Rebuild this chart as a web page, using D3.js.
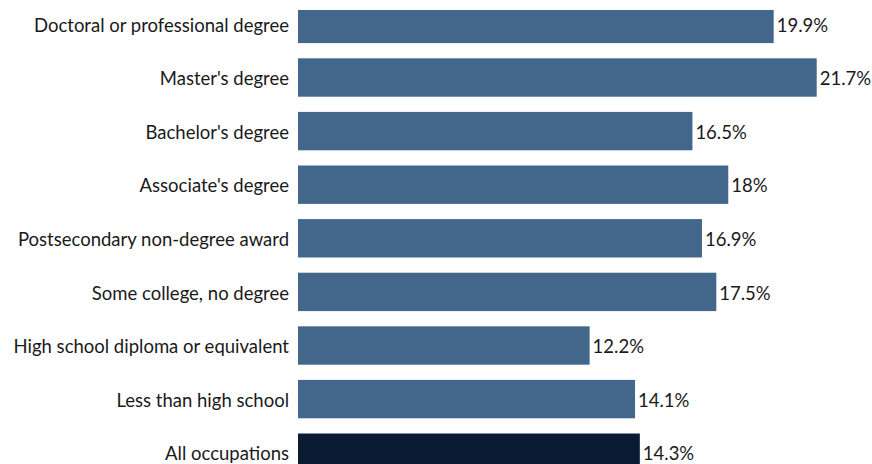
<!DOCTYPE html>
<html>
<head>
<meta charset="utf-8">
<script src="https://cdn.jsdelivr.net/npm/d3@7"></script>
<style>
  html, body { margin: 0; padding: 0; background: #ffffff; }
  svg { display: block; }
  text { font-family: Lato, "Noto Sans", sans-serif; fill: #1a1a1a; }
</style>
</head>
<body>
<svg id="chart" width="872" height="464"></svg>
<script>
// Education levels, top to bottom
const categories = [
  "Doctoral or professional degree",
  "Master's degree",
  "Bachelor's degree",
  "Associate's degree",
  "Postsecondary non-degree award",
  "Some college, no degree",
  "High school diploma or equivalent",
  "Less than high school",
  "All occupations"
];
// Percent values for each level
const values = [19.9, 21.7, 16.5, 18, 16.9, 17.5, 12.2, 14.1, 14.3];
const valueLabels = ["19.9%", "21.7%", "16.5%", "18%", "16.9%", "17.5%", "12.2%", "14.1%", "14.3%"];
const totalCategory = "All occupations";

const W = 872, H = 464;
const FONT_SIZE = 18.5;
const svg = d3.select("#chart");

const x = d3.scaleLinear().domain([0, 21.7]).range([298, 816.7]);
const y = d3.scaleBand()
  .domain(categories)
  .range([-2.9, 479.5])
  .paddingInner(0.284)
  .paddingOuter(0.142);

const data = categories.map((c, i) => ({ cat: c, value: values[i], label: valueLabels[i] }));

// Plot area starts a little below the top edge
svg.append("defs").append("clipPath").attr("id", "plot-clip")
  .append("rect").attr("x", 0).attr("y", 10).attr("width", W).attr("height", H - 10);

svg.append("g").attr("clip-path", "url(#plot-clip)")
  .selectAll("rect")
  .data(data)
  .join("rect")
  .attr("x", x(0))
  .attr("y", d => y(d.cat))
  .attr("width", d => x(d.value) - x(0))
  .attr("height", y.bandwidth())
  .attr("fill", d => d.cat === totalCategory ? "#0b1b33" : "#43678b");

// Category axis on the left, without domain line or ticks
const yAxis = svg.append("g")
  .attr("transform", `translate(${x(0)},0)`)
  .call(d3.axisLeft(y).tickSize(0).tickPadding(9));
yAxis.select(".domain").remove();
yAxis.selectAll("text")
  .attr("font-family", "Lato, 'Noto Sans', sans-serif")
  .attr("font-size", FONT_SIZE)
  .attr("fill", "#1a1a1a")
  .attr("dy", "0.42em");

// Value labels at the end of each bar
svg.append("g")
  .selectAll("text")
  .data(data)
  .join("text")
  .attr("x", d => x(d.value) + 3)
  .attr("y", d => y(d.cat) + y.bandwidth() / 2)
  .attr("dy", "0.42em")
  .attr("font-size", FONT_SIZE)
  .text(d => d.label);
</script>
</body>
</html>
